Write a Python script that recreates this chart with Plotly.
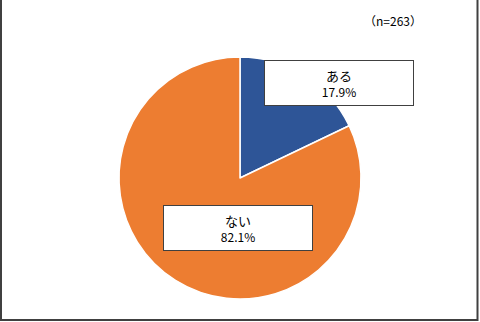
import plotly.graph_objects as go

labels = ["ある", "ない"]
values = [17.9, 82.1]
colors = ["#2E5597", "#ED7D31"]
note = "（n=263）"

W, H = 480, 322
cx, cy, r = 240, 178, 121

fig = go.Figure(go.Pie(
    labels=labels, values=values, sort=False, direction="clockwise", rotation=0,
    marker=dict(colors=colors, line=dict(color="white", width=1.5)),
    textinfo="none", hoverinfo="label+percent", showlegend=False,
    domain=dict(x=[(cx - r) / W, (cx + r) / W], y=[(H - cy - r) / H, (H - cy + r) / H]),
))

font = "Noto Sans CJK JP"
boxes = [(339, 82.5), (238, 228)]
for (bx, by), lab, v in zip(boxes, labels, values):
    fig.add_annotation(
        x=bx / W, y=1 - by / H, xref="paper", yref="paper",
        xanchor="center", yanchor="middle",
        text=f"<span style='font-size:13px'>{lab}</span><br>{v:.1f}%", showarrow=False,
        font=dict(family=font, size=12, color="#000000"),
        align="center", bgcolor="white", bordercolor="#404040", borderwidth=1,
        width=144, height=40, borderpad=2,
    )

fig.add_annotation(x=393 / W, y=1 - 20 / H, xref="paper", yref="paper",
                   xanchor="center", yanchor="middle",
                   text=note, showarrow=False,
                   font=dict(family=font, size=12, color="#000000"))

fig.add_shape(type="rect", xref="paper", yref="paper", x0=1 / W, x1=1 - 2.5 / W,
              y0=2 / H, y1=1.05, line=dict(color="#404040", width=2))

fig.update_layout(width=W, height=H, margin=dict(l=0, r=0, t=0, b=0),
                  paper_bgcolor="white", plot_bgcolor="white")

fig.write_html("out.html")
